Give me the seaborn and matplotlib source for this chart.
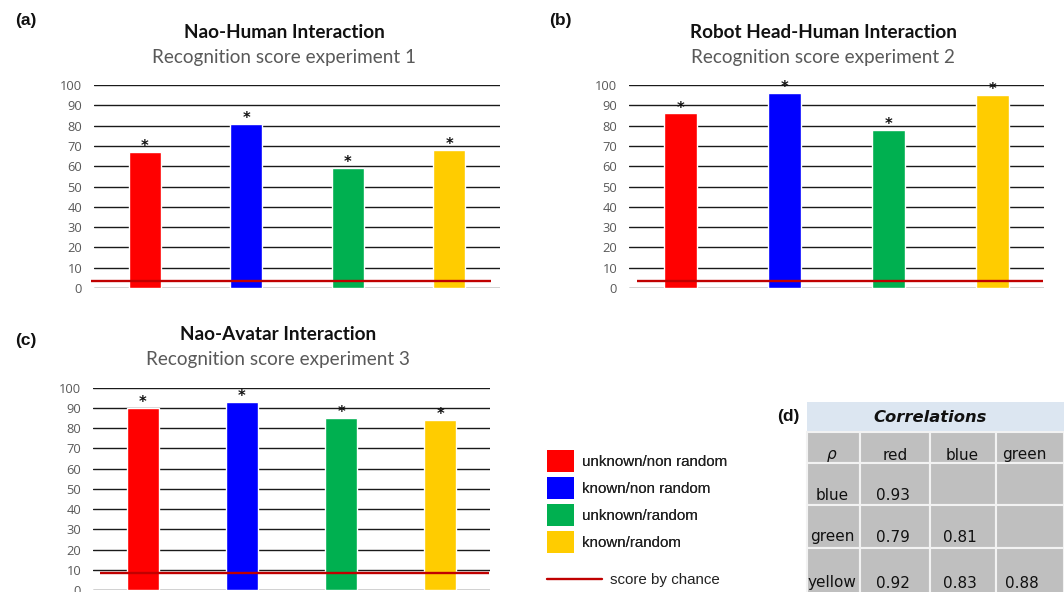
import matplotlib
matplotlib.use("Agg")
import matplotlib.pyplot as plt
import seaborn as sns
from matplotlib.patches import Patch, Rectangle
from matplotlib.lines import Line2D

# ---------------- data ----------------
categories = ["unknown/non random", "known/non random", "unknown/random", "known/random"]
bar_colors = ["#ff0000", "#0000ff", "#00b050", "#ffcc00"]
exp1_scores = [67, 81, 59, 68]
exp2_scores = [86, 96, 78, 95]
exp3_scores = [90, 93, 85, 84]
chance_scores = [3.5, 3.6, 8.3]
titles = ["Nao-Human Interaction", "Robot Head-Human Interaction", "Nao-Avatar Interaction"]
subtitles = ["Recognition score experiment 1", "Recognition score experiment 2",
             "Recognition score experiment 3"]
panel_tags = ["(a)", "(b)", "(c)"]
y_ticks = [0, 10, 20, 30, 40, 50, 60, 70, 80, 90, 100]

corr_cols = ["\u03c1", "red", "blue", "green"]
corr_rows = ["blue", "green", "yellow"]
corr_vals = [["0.93", "", ""],
             ["0.79", "0.81", ""],
             ["0.92", "0.83", "0.88"]]

# ---------------- figure ----------------
sns.set_theme(style="white")
W, H = 1064, 592
fig = plt.figure(figsize=(W / 100, H / 100), dpi=100)

def fx(px):
    return px / W

def fy(py):
    return 1 - py / H

# axes rectangles in pixel coordinates: (left, top, right, bottom)
ax_boxes = [(94, 85, 500, 288), (629, 85, 1044, 288), (93, 387.7, 490, 590)]
title_pos = [(284, 32, 57), (823, 32, 57), (278, 335, 360)]
tag_pos = [(15, 21), (549, 20), (15, 340)]
line_spans = [(-0.53, 3.41), (-0.42, 3.49), (-0.43, 3.49)]
scores = [exp1_scores, exp2_scores, exp3_scores]

tick_font = "Open Sans"
title_font = "Lato"

for i in range(3):
    l, t, r, b = ax_boxes[i]
    ax = fig.add_axes([fx(l), fy(b), fx(r - l), (b - t) / H])
    sns.barplot(x=categories, y=scores[i], hue=categories, palette=bar_colors,
                width=0.32, saturation=1, legend=False, ax=ax, zorder=2)
    ax.set_ylim(0, 100)
    ax.set_xlim(-0.5, 3.5)
    ax.set_yticks(y_ticks)
    ax.set_yticklabels([str(v) for v in y_ticks], fontsize=9.3, color="#595959",
                       family=tick_font)
    ax.tick_params(axis="y", length=0, pad=8.5)
    ax.set_xticks([])
    ax.set_xlabel("")
    ax.set_ylabel("")
    for s in ax.spines.values():
        s.set_visible(False)
    ax.yaxis.grid(True, color="#1a1a1a", linewidth=1.0, zorder=0)
    ax.set_axisbelow(True)
    ax.hlines(chance_scores[i], line_spans[i][0], line_spans[i][1],
              color="#c00000", linewidth=1.7, zorder=3, clip_on=False)
    for k, v in enumerate(scores[i]):
        ax.annotate("*", (k, v), xytext=(0, -1.5), textcoords="offset points",
                    ha="center", va="bottom", fontsize=10.5, fontweight="bold",
                    color="#111111", family="DejaVu Sans")
    cx, ty, sy = title_pos[i]
    fig.text(fx(cx), fy(ty), titles[i], ha="center", va="center", fontsize=13.6,
             fontweight="bold", family=title_font, color="#111111")
    fig.text(fx(cx), fy(sy), subtitles[i], ha="center", va="center", fontsize=13.6,
             family=title_font, color="#595959")
    tx, tyy = tag_pos[i]
    fig.text(fx(tx), fy(tyy), panel_tags[i], ha="left", va="center", fontsize=12.5,
             fontweight="bold", family="Liberation Sans", color="#111111")

# ---------------- legend ----------------
LFS = 10.9
handles = [Patch(facecolor=c, edgecolor="none") for c in bar_colors]
leg1 = fig.legend(handles, categories, loc="upper left",
                  bbox_to_anchor=(fx(547), fy(450)), frameon=False, borderpad=0,
                  borderaxespad=0, handlelength=1.8, handleheight=1.9,
                  labelspacing=0.3, handletextpad=0.53,
                  prop={"family": "Liberation Sans", "size": LFS})
for txt in leg1.get_texts():
    txt.set_color("#222222")
fig.add_artist(leg1)
leg2 = fig.legend([Line2D([0], [0], color="#c00000", lw=1.7)], ["score by chance"],
                  loc="center left", bbox_to_anchor=(fx(547), fy(580)), frameon=False,
                  borderpad=0, borderaxespad=0, handlelength=3.6, handletextpad=0.53,
                  prop={"family": "Liberation Sans", "size": LFS})
for txt in leg2.get_texts():
    txt.set_color("#222222")

# ---------------- correlation table ----------------
tl, tt = 807, 402
tax = fig.add_axes([fx(tl), 0, fx(W - tl), (H - tt) / H])
tax.set_xlim(0, W - tl)
tax.set_ylim(H - tt, 0)
tax.axis("off")
col_edges = [0, 53, 123, 189, 257]
row_edges = [30, 61, 103, 146, 192]
# header
tax.add_patch(Rectangle((0, 0), col_edges[-1], 30, facecolor="#dce6f1",
                        edgecolor="none", clip_on=False))
tax.text((930 - tl), 417 - tt, "Correlations", ha="center", va="center",
         fontsize=11.8, fontweight="bold", fontstyle="italic", family="DejaVu Sans",
         color="#111111")
for ri in range(len(row_edges) - 1):
    for ci in range(len(col_edges) - 1):
        tax.add_patch(Rectangle((col_edges[ci], row_edges[ri]),
                                col_edges[ci + 1] - col_edges[ci],
                                row_edges[ri + 1] - row_edges[ri],
                                facecolor="#bfbfbf", edgecolor="#f2f2f2",
                                linewidth=1.5, clip_on=False))
col_centers = [832 - tl, 895 - tl, 962 - tl, 1024 - tl]
TFS = 11
for ci, name in enumerate(corr_cols):
    tax.text(col_centers[ci], 455 - tt, name, ha="center", va="center",
             fontsize=TFS, family="DejaVu Sans", color="#111111",
             fontstyle="italic" if ci == 0 else "normal")
row_text_y = [495 - tt, 537 - tt, 583 - tt]
for ri, name in enumerate(corr_rows):
    tax.text(col_centers[0], row_text_y[ri], name, ha="center", va="center",
             fontsize=TFS, family="DejaVu Sans", color="#111111")
    for ci, val in enumerate(corr_vals[ri]):
        tax.text(col_centers[ci + 1] - 2, row_text_y[ri], val, ha="center",
                 va="center", fontsize=TFS, family="DejaVu Sans", color="#111111")
fig.text(fx(777), fy(416), "(d)", ha="left", va="center", fontsize=12.5,
         fontweight="bold", family="Liberation Sans", color="#111111")

fig.savefig("out.png", dpi=100)
